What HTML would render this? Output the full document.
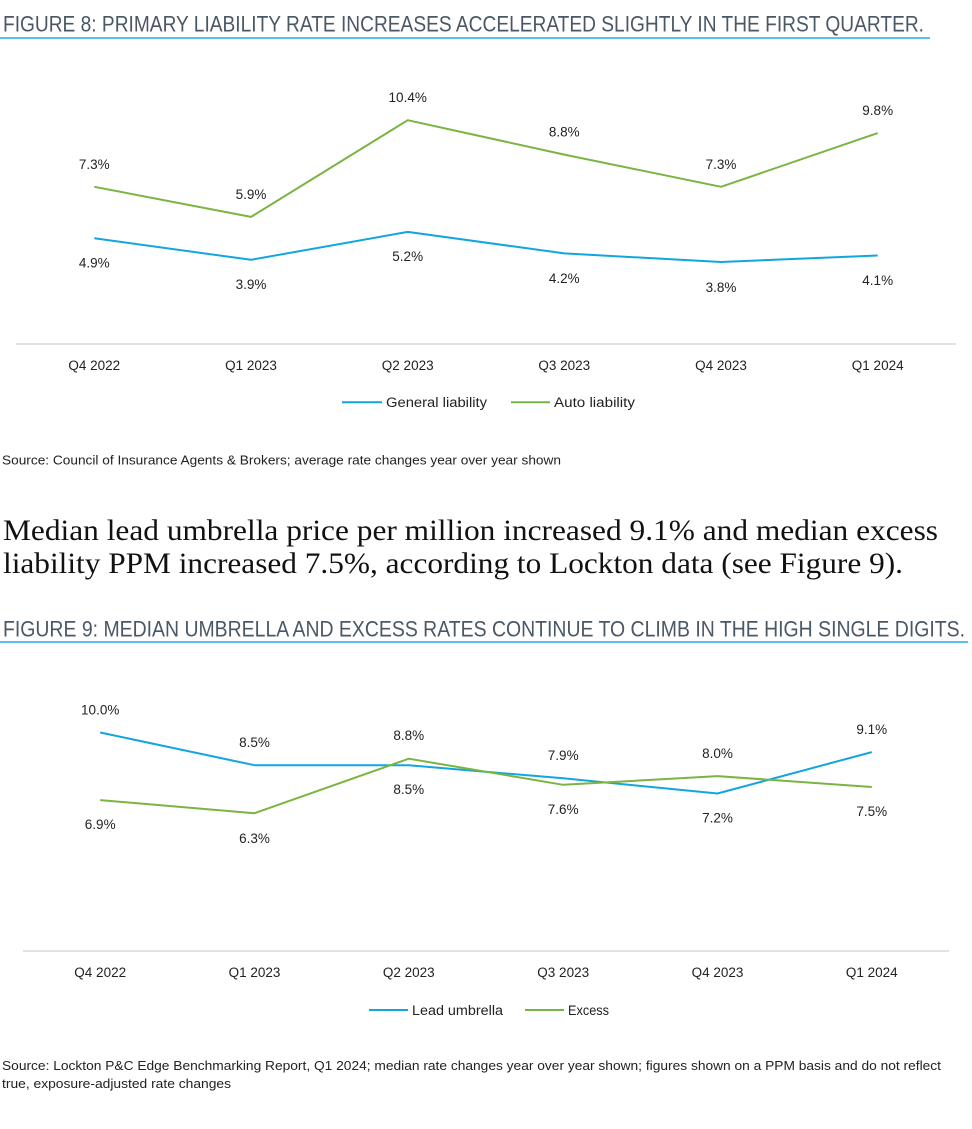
<!DOCTYPE html>
<html>
<head>
<meta charset="utf-8">
<style>
html,body{margin:0;padding:0;background:#fff;}
svg{display:block;}
.t{font-family:"Liberation Sans",sans-serif;fill:#4a5866;font-size:22px;}
.p{font-family:"Liberation Serif",serif;fill:#111;font-size:29.5px;}
.l{font-family:"Liberation Sans",sans-serif;fill:#222;font-size:13.5px;text-anchor:middle;}
.g{font-family:"Liberation Sans",sans-serif;fill:#222;font-size:13.5px;}
.s{font-family:"Liberation Sans",sans-serif;fill:#222;font-size:12.5px;}
</style>
</head>
<body>
<svg width="972" height="1129" viewBox="0 0 972 1129" xmlns="http://www.w3.org/2000/svg">
<rect width="972" height="1129" fill="#fff"/>

<!-- Figure 8 title -->
<text class="t" x="3" y="31.5" textLength="921" lengthAdjust="spacingAndGlyphs">FIGURE 8: PRIMARY LIABILITY RATE INCREASES ACCELERATED SLIGHTLY IN THE FIRST QUARTER.</text>
<line x1="0" y1="38" x2="930" y2="38" stroke="#41b6e6" stroke-width="1.8"/>

<!-- Figure 8 axis -->
<line x1="16" y1="344" x2="956" y2="344" stroke="#d9d9d9" stroke-width="1.5"/>

<!-- Figure 8 series -->
<polyline fill="none" stroke="#7ab441" stroke-width="2" stroke-linejoin="round" points="94.3,186.8 251,216.9 407.7,120.2 564.3,154.6 721,186.8 877.7,133.1"/>
<polyline fill="none" stroke="#13a5e0" stroke-width="2" stroke-linejoin="round" points="94.3,238.3 251,259.8 407.7,231.9 564.3,253.4 721,262.0 877.7,255.5"/>

<!-- Figure 8 data labels -->
<text class="l" x="94.3" y="168.8">7.3%</text>
<text class="l" x="251" y="198.9">5.9%</text>
<text class="l" x="407.7" y="102.2">10.4%</text>
<text class="l" x="564.3" y="136.3">8.8%</text>
<text class="l" x="721" y="168.8">7.3%</text>
<text class="l" x="877.7" y="115.1">9.8%</text>

<text class="l" x="94.3" y="267.5">4.9%</text>
<text class="l" x="251" y="289">3.9%</text>
<text class="l" x="407.7" y="261">5.2%</text>
<text class="l" x="564.3" y="283">4.2%</text>
<text class="l" x="721" y="292">3.8%</text>
<text class="l" x="877.7" y="285">4.1%</text>

<!-- Figure 8 categories -->
<text class="l" x="94.3" y="370">Q4 2022</text>
<text class="l" x="251" y="370">Q1 2023</text>
<text class="l" x="407.7" y="370">Q2 2023</text>
<text class="l" x="564.3" y="370">Q3 2023</text>
<text class="l" x="721" y="370">Q4 2023</text>
<text class="l" x="877.7" y="370">Q1 2024</text>

<!-- Figure 8 legend -->
<line x1="342" y1="402.3" x2="382" y2="402.3" stroke="#13a5e0" stroke-width="2"/>
<text class="g" x="386" y="407" textLength="101" lengthAdjust="spacingAndGlyphs">General liability</text>
<line x1="511" y1="402.3" x2="550" y2="402.3" stroke="#7ab441" stroke-width="2"/>
<text class="g" x="554" y="407" textLength="81" lengthAdjust="spacingAndGlyphs">Auto liability</text>

<!-- Figure 8 source -->
<text class="s" x="2" y="464.5" textLength="559" lengthAdjust="spacingAndGlyphs">Source: Council of Insurance Agents &amp; Brokers; average rate changes year over year shown</text>

<!-- Paragraph -->
<text class="p" x="3" y="540" textLength="935" lengthAdjust="spacingAndGlyphs">Median lead umbrella price per million increased 9.1% and median excess</text>
<text class="p" x="3" y="573" textLength="900" lengthAdjust="spacingAndGlyphs">liability PPM increased 7.5%, according to Lockton data (see Figure 9).</text>

<!-- Figure 9 title -->
<text class="t" x="3" y="636.5" textLength="962" lengthAdjust="spacingAndGlyphs">FIGURE 9: MEDIAN UMBRELLA AND EXCESS RATES CONTINUE TO CLIMB IN THE HIGH SINGLE DIGITS.</text>
<line x1="0" y1="642" x2="968" y2="642" stroke="#41b6e6" stroke-width="1.8"/>

<!-- Figure 9 axis -->
<line x1="23" y1="951" x2="949" y2="951" stroke="#d9d9d9" stroke-width="1.5"/>

<!-- Figure 9 series -->
<polyline fill="none" stroke="#13a5e0" stroke-width="2" stroke-linejoin="round" points="100.2,732.5 254.5,765.2 408.8,765.2 563.2,778.3 717.5,793.5 871.8,752.1"/>
<polyline fill="none" stroke="#7ab441" stroke-width="2" stroke-linejoin="round" points="100.2,800.1 254.5,813.2 408.8,758.7 563.2,784.8 717.5,776.1 871.8,787.0"/>

<!-- Figure 9 data labels -->
<text class="l" x="100.2" y="714.3">10.0%</text>
<text class="l" x="100.2" y="829">6.9%</text>
<text class="l" x="254.5" y="747">8.5%</text>
<text class="l" x="254.5" y="843">6.3%</text>
<text class="l" x="408.8" y="740">8.8%</text>
<text class="l" x="408.8" y="794">8.5%</text>
<text class="l" x="563.2" y="760">7.9%</text>
<text class="l" x="563.2" y="814">7.6%</text>
<text class="l" x="717.5" y="758">8.0%</text>
<text class="l" x="717.5" y="822.7">7.2%</text>
<text class="l" x="871.8" y="734">9.1%</text>
<text class="l" x="871.8" y="816">7.5%</text>

<!-- Figure 9 categories -->
<text class="l" x="100.2" y="977">Q4 2022</text>
<text class="l" x="254.5" y="977">Q1 2023</text>
<text class="l" x="408.8" y="977">Q2 2023</text>
<text class="l" x="563.2" y="977">Q3 2023</text>
<text class="l" x="717.5" y="977">Q4 2023</text>
<text class="l" x="871.8" y="977">Q1 2024</text>

<!-- Figure 9 legend -->
<line x1="369" y1="1010" x2="408" y2="1010" stroke="#13a5e0" stroke-width="2"/>
<text class="g" x="412" y="1014.8" textLength="91" lengthAdjust="spacingAndGlyphs">Lead umbrella</text>
<line x1="525" y1="1010" x2="564" y2="1010" stroke="#7ab441" stroke-width="2"/>
<text class="g" x="568" y="1014.8" textLength="41" lengthAdjust="spacingAndGlyphs">Excess</text>

<!-- Figure 9 source -->
<text class="s" x="2" y="1070" textLength="939" lengthAdjust="spacingAndGlyphs">Source: Lockton P&amp;C Edge Benchmarking Report, Q1 2024; median rate changes year over year shown; figures shown on a PPM basis and do not reflect</text>
<text class="s" x="2" y="1088" textLength="229" lengthAdjust="spacingAndGlyphs">true, exposure-adjusted rate changes</text>
</svg>
</body>
</html>
